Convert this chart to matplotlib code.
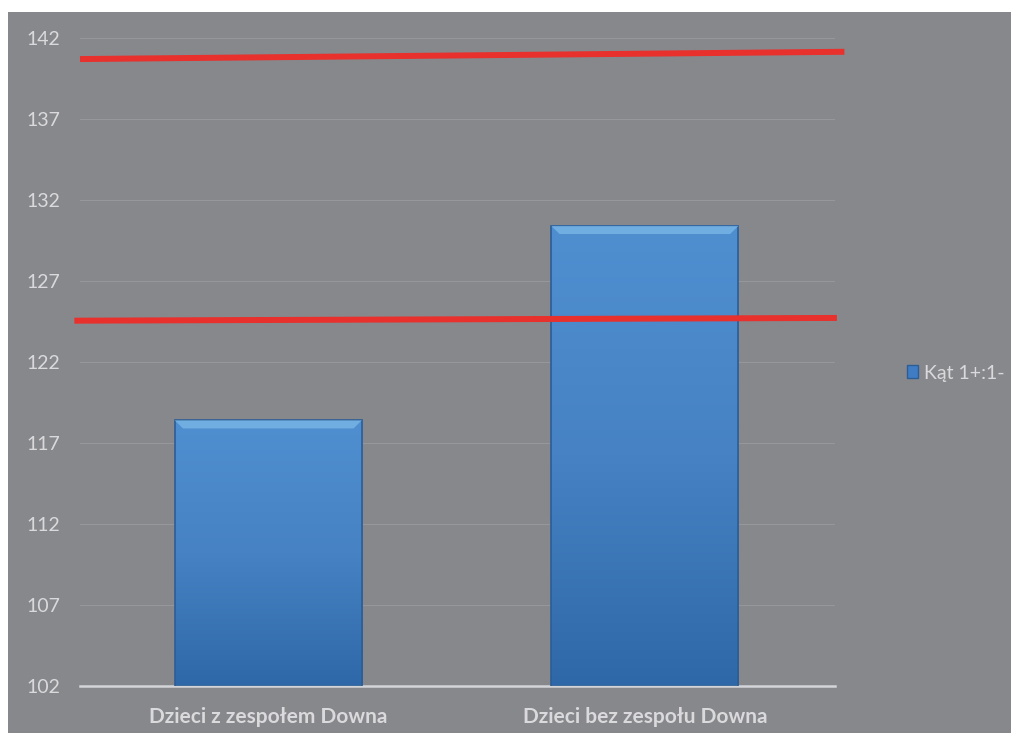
import numpy as np
import matplotlib.pyplot as plt
from matplotlib.patches import Rectangle, Polygon
from matplotlib.colors import LinearSegmentedColormap

plt.rcParams['font.family'] = ['Lato', 'DejaVu Sans']

categories = ['Dzieci z zespołem Downa', 'Dzieci bez zespołu Downa']
values = [118.4, 130.4]
series_name = 'Kąt 1+:1-'
yticks = [102, 107, 112, 117, 122, 127, 132, 137, 142]

# red reference lines (x in category units, y in data units)
upper_x = [-0.50, 1.53]
upper_y = [140.7, 141.15]
lower_x = [-0.515, 1.51]
lower_y = [124.55, 124.72]

bg = '#87888c'
txt = '#dadadc'

fig = plt.figure(figsize=(10.11, 7.33), dpi=100, facecolor='white')
# gray panel leaving a thin white margin top/left
fig.patches.append(Rectangle((8 / 1011, 0), 1, 1 - 12 / 733, transform=fig.transFigure,
                             facecolor=bg, edgecolor='none', zorder=-1))

ax = fig.add_axes([80 / 1011, (733 - 686) / 733, 755 / 1011, 648 / 733])
ax.patch.set_alpha(0)
ax.set_yticks(yticks)
ax.set_xticks(range(len(categories)))
ax.set_xticklabels(categories, fontsize=15, fontweight='bold', color=txt)
ax.tick_params(axis='y', labelsize=14, labelcolor=txt, length=0, pad=14)
ax.tick_params(axis='x', length=0, pad=15)
for s in ['top', 'right', 'left']:
    ax.spines[s].set_visible(False)
ax.spines['bottom'].set_color('#d4d5d8')
ax.spines['bottom'].set_linewidth(1.8)
ax.grid(axis='y', color='#96979b', linewidth=0.8)
ax.set_axisbelow(True)

width = 0.497
grad = np.linspace(0, 1, 256).reshape(-1, 1)
cmap = LinearSegmentedColormap.from_list('bar', ['#2f68a8', '#4682c4', '#4f8fd0'])
for i, v in enumerate(values):
    x0, x1 = i - width / 2, i + width / 2
    ax.imshow(grad, extent=(x0, x1, 102, v), origin='lower', aspect='auto',
              cmap=cmap, zorder=2)
    ax.add_patch(Rectangle((x0, 102), width, v - 102, facecolor='none',
                           edgecolor='#2d5d95', linewidth=1.2, zorder=3))
    # bevel at the top edge, slanted corners
    bev = 0.5
    dx = 0.022
    ax.add_patch(Polygon([(x0, v), (x1, v), (x1 - dx, v - bev), (x0 + dx, v - bev)],
                         closed=True, facecolor='#7cb8e8', edgecolor='none',
                         alpha=0.75, zorder=3))
ax.set_xlim(-0.5, 1.505)
ax.set_ylim(102, 142)

ax.plot(upper_x, upper_y, color='#e8302c', linewidth=4.3, solid_capstyle='butt',
        clip_on=False, zorder=5)
ax.plot(lower_x, lower_y, color='#e8302c', linewidth=4.3, solid_capstyle='butt',
        clip_on=False, zorder=5)

handle = Rectangle((0, 0), 1, 1, facecolor='#3f7cc4', edgecolor='#2d5d95')
leg = fig.legend([handle], [series_name], loc='center left',
                 bbox_to_anchor=(899 / 1011, 1 - 373 / 733), frameon=False,
                 fontsize=14, handlelength=0.6, handleheight=0.6, handletextpad=0.3,
                 borderaxespad=0)
for t in leg.get_texts():
    t.set_color(txt)

fig.savefig('out.png', dpi=100, facecolor='white')
